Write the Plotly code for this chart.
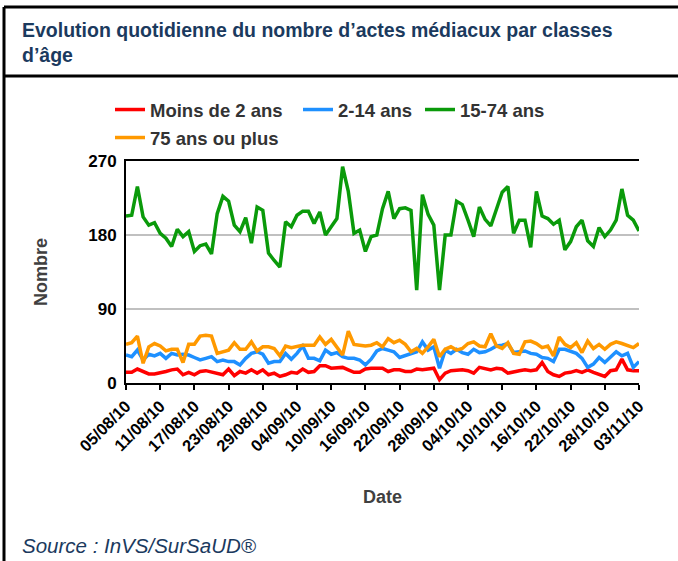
import pandas as pd
import plotly.graph_objects as go

W, H = 678, 561
ML, MR, MT, MB = 126, 39, 161, 178

dates = pd.date_range("2010-08-05", periods=91, freq="D")

moins_2 = [13,13,17,14,11,11,12,14,16,17,10,13,10,14,15,13,11,10,17,9,
           14,12,16,12,16,10,12,8,10,13,12,17,13,14,21,21,18,18,19,16,
           13,13,17,18,18,18,14,16,16,14,14,17,16,17,18,4,12,15,16,16,
           15,12,19,17,16,18,17,12,14,15,16,15,16,25,14,10,8,12,13,15,
           13,16,13,10,8,15,16,29,16,15,15]
ans_2_14 = [34,32,40,28,35,33,36,30,36,34,35,34,31,28,30,32,26,28,26,26,
            22,30,36,38,35,24,26,26,36,29,36,45,30,30,27,40,35,37,32,30,
            30,28,22,29,39,42,40,38,31,33,35,38,50,40,44,18,40,36,41,37,
            35,41,37,38,41,45,46,48,37,38,39,36,35,31,30,26,41,41,39,36,
            30,19,23,31,25,31,38,33,36,19,26]
ans_15_74 = [203,204,239,202,192,195,182,176,166,187,178,184,160,167,169,157,206,227,221,192,
             184,201,170,214,210,158,149,141,196,190,204,209,209,194,208,180,190,200,263,233,
             182,186,160,178,180,212,233,200,212,213,210,113,229,205,192,113,180,180,221,217,
             198,178,214,199,191,213,232,239,182,198,198,165,233,203,200,193,198,162,172,190,
             198,173,166,189,178,186,198,236,204,198,185]
ans_75_plus = [47,49,57,24,44,48,45,39,41,41,25,47,47,57,58,57,36,38,40,49,
               41,41,50,39,44,44,42,33,45,43,45,46,46,46,56,47,53,43,34,63,
               47,46,45,46,49,44,54,49,52,47,38,42,36,44,53,32,41,44,40,42,
               48,50,45,44,60,45,42,49,36,35,50,51,48,43,45,33,56,47,43,49,
               37,51,42,47,41,47,50,48,45,43,48]

series_names = ["Moins de 2 ans", "2-14 ans", "15-74 ans", "75 ans ou plus"]
series_values = [moins_2, ans_2_14, ans_15_74, ans_75_plus]
series_colors = ["#FF0000", "#1E90FF", "#0A9A0A", "#FF9900"]
y_ticks = [0, 90, 180, 270]

FONT = "Liberation Sans, Arial, sans-serif"
navy = "#1B3A5E"

# legend positions (container pixels): x of entry, y of row center
legend_pos = [(110, 110), (298, 110), (420, 110), (110, 138)]
legend_ids = ["legend", "legend2", "legend3", "legend4"]

fig = go.Figure()
for name, vals, col, lid in zip(series_names, series_values, series_colors, legend_ids):
    fig.add_trace(go.Scatter(x=dates, y=vals, mode="lines", name=name,
                             line=dict(color=col, width=3.5), legend=lid))

legend_font = dict(family=FONT, size=18.5, color="#333333", weight="bold")
layout_legends = {}
for lid, (px, py) in zip(legend_ids, legend_pos):
    layout_legends[lid] = dict(x=px / W, y=1 - py / H, xref="container", yref="container",
                               xanchor="left", yanchor="middle", orientation="h",
                               font=legend_font, bgcolor="rgba(0,0,0,0)", borderwidth=0,
                               itemwidth=30)

def px_x(p):
    return (p - ML) / (W - ML - MR)

def px_y(p):
    return (H - MB - p) / (H - MT - MB)

fig.update_layout(
    width=W, height=H,
    margin=dict(l=ML, r=MR, t=MT, b=MB, autoexpand=False),
    paper_bgcolor="white", plot_bgcolor="white",
    showlegend=True,
    **layout_legends,
)

fig.update_xaxes(
    range=[dates[0], dates[-1]],
    tick0=dates[0], dtick=6 * 86400000, tickformat="%d/%m/%y",
    tickangle=-45, ticks="outside", ticklen=5, tickwidth=2, tickcolor="black",
    tickfont=dict(family=FONT, size=16.5, color="black", weight="bold"),
    showline=True, linecolor="black", linewidth=2, mirror=True,
    showgrid=False, zeroline=False, automargin=False,
    title=dict(text="Date", standoff=36,
               font=dict(family=FONT, size=18, color="#404040", weight="bold")),
)
fig.update_yaxes(
    range=[0, 270], tickvals=y_ticks,
    tickfont=dict(family=FONT, size=17, color="black", weight="bold"),
    ticklabelstandoff=4,
    showline=True, linecolor="black", linewidth=2,
    showgrid=True, gridcolor="#C0C0C0", gridwidth=2, zeroline=False,
    ticks="", automargin=False,
    title=dict(text="Nombre", standoff=36,
               font=dict(family=FONT, size=18, color="#404040", weight="bold")),
)

# frame lines (panel border)
frame = [
    (4, 7, W, 7),
    (4, 76, W, 76),
    (4, 7, 4, H),
]
for x0, y0, x1, y1 in frame:
    fig.add_shape(type="line", xref="paper", yref="paper",
                  x0=px_x(x0), y0=px_y(y0), x1=px_x(x1), y1=px_y(y1),
                  line=dict(color="black", width=3), layer="above")

fig.add_annotation(text="Evolution quotidienne du nombre d’actes médiacux par classes<br>d’âge",
                   xref="paper", yref="paper", x=px_x(20), y=px_y(17),
                   xanchor="left", yanchor="top", align="left", showarrow=False,
                   font=dict(family=FONT, size=19.5, color=navy, weight="bold"))

fig.add_annotation(text="Source : InVS/SurSaUD®", xref="paper", yref="paper",
                   x=px_x(20), y=px_y(545), xanchor="left", yanchor="middle", showarrow=False,
                   font=dict(family=FONT, size=20.5, color=navy, style="italic"))

fig.write_html("out.html", config={"displayModeBar": False},
               post_script="document.body.style.margin='0px';")
